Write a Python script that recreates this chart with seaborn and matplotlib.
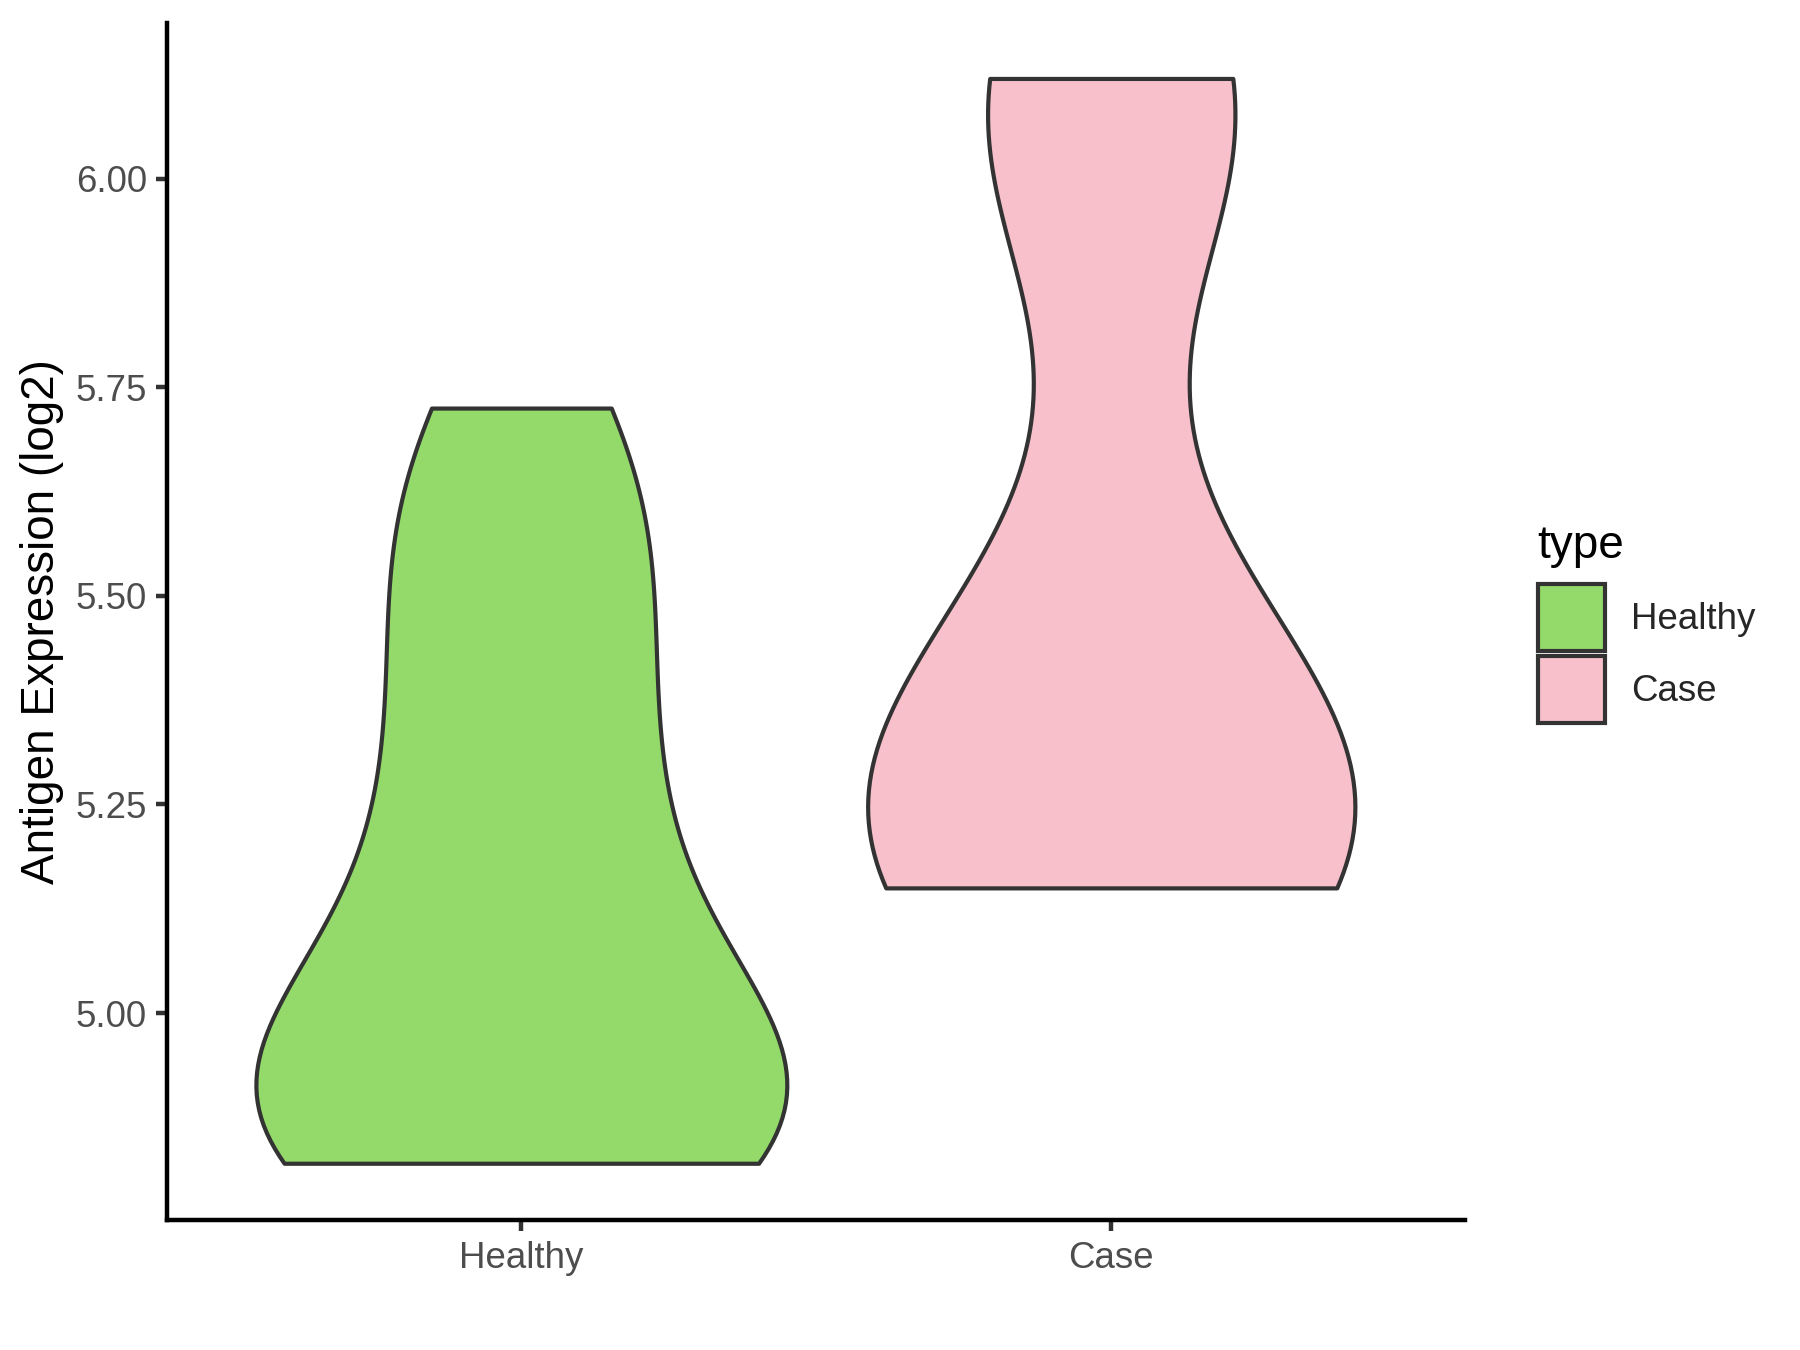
import numpy as np
import pandas as pd
import seaborn as sns
import matplotlib.pyplot as plt
from matplotlib.patches import Patch

# expression values per group (log2)
healthy_vals = [4.82, 4.82, 4.84, 4.86, 4.88, 4.9, 4.94, 5.0, 5.08, 5.17, 5.26,
                5.36, 5.46, 5.56, 5.64, 5.725]
case_vals = [5.15, 5.15, 5.17, 5.19, 5.22, 5.26, 5.32, 5.4, 5.52,
             6.04, 6.08, 6.1, 6.12]
groups = ['Healthy', 'Case']
palette = {'Healthy': '#93DA6A', 'Case': '#F7C0CB'}
# max violin width per group (area-style scaling as in the original)
widths = {'Healthy': 0.9, 'Case': 0.826}

df = pd.DataFrame({
    'type': ['Healthy'] * len(healthy_vals) + ['Case'] * len(case_vals),
    'value': healthy_vals + case_vals,
})

sns.set_theme(style='ticks')
plt.rcParams['font.family'] = ['Liberation Sans', 'DejaVu Sans']

fig = plt.figure(figsize=(6, 4.5), dpi=300)
ax = fig.add_axes([0.093, 0.0963, 0.721, 0.887])

for g in groups:
    sns.violinplot(data=df[df['type'] == g], x='type', y='value', hue='type',
                   order=groups, hue_order=groups, palette=palette, cut=0,
                   inner=None, density_norm='width', width=widths[g],
                   linewidth=1.0, bw_adjust=0.9, linecolor='#333333',
                   saturation=1, legend=False, ax=ax)

ax.set_xlim(-0.6, 1.6)
ax.set_ylim(4.752, 6.187)
ax.set_yticks([5.0, 5.25, 5.5, 5.75, 6.0])
ax.set_yticklabels(['5.00', '5.25', '5.50', '5.75', '6.00'])
ax.set_xlabel('')
ax.set_ylabel('Antigen Expression (log2)', fontsize=11, color='black', labelpad=2.75)
for s in ['top', 'right']:
    ax.spines[s].set_visible(False)
for s in ['left', 'bottom']:
    ax.spines[s].set_linewidth(1.07)
    ax.spines[s].set_color('black')
ax.tick_params(axis='both', labelsize=8.8, labelcolor='#4D4D4D', color='#333333',
               length=2.75, width=1.07, pad=2.2)

# legend drawn by hand, title as separate text
fig.text(0.854, 0.587, 'type', fontsize=11, color='black', va='baseline', ha='left')
handles = [Patch(facecolor=palette[g], edgecolor='#333333', linewidth=1.0, label=g)
           for g in groups]
fig.legend(handles=handles, loc='upper left', bbox_to_anchor=(0.8546, 0.5674),
           frameon=False, fontsize=8.8, handlelength=1.82, handleheight=2.42,
           labelspacing=0.15, handletextpad=0.7, borderpad=0, borderaxespad=0)

fig.savefig('out.png', dpi=300)
